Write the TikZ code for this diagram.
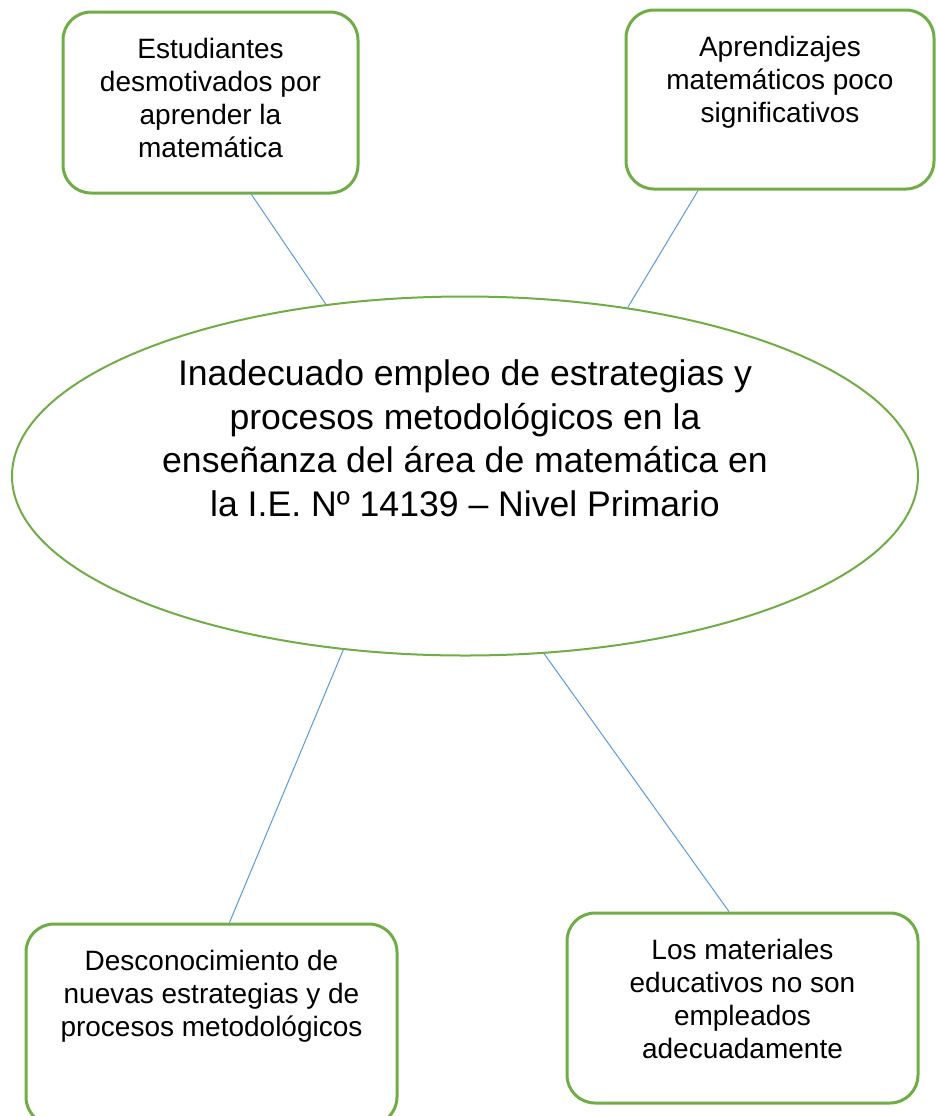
\documentclass[tikz,border=0pt]{standalone}
\usepackage{fontspec}
\setmainfont{Liberation Sans}
\usepackage{tikz}
\usetikzlibrary{shapes}
\definecolor{verde}{HTML}{70AD47}
\definecolor{azul}{HTML}{5B9BD5}

\begin{document}
\begin{tikzpicture}[x=0.5pt,y=-0.5pt,line join=round]
\tikzstyle{causa}=[draw=verde,line width=1.5pt,rounded corners=14pt,inner sep=13pt,fill=white,text=black,font=\fontsize{14}{16.5}\selectfont]
\tikzstyle{problema}=[ellipse,draw=verde,line width=1pt,inner sep=0pt,minimum width=453pt,minimum height=179.5pt,text=black,font=\fontsize{17.8}{21.75}\selectfont]
\tikzstyle{enlace}=[draw=azul,line width=0.5pt]
\clip (0,0) rectangle (936,1116);
% problema central
\node[problema] (prob) at (465,476) {\parbox[c][116pt][t]{310pt}{\centering Inadecuado empleo de estrategias y\\ procesos metodológicos en la\\ enseñanza del área de matemática en\\ la I.E. Nº 14139 – Nivel Primario}};
% cajas
\node[causa,minimum width=147.5pt,minimum height=90.5pt] (estud) at (210.5,102.5) {\parbox[c][64.5pt][t]{121.5pt}{\centering Estudiantes\\ desmotivados por\\ aprender la\\ matemática}};
\node[causa,minimum width=154pt,minimum height=89.5pt] (aprend) at (780,99.5) {\parbox[c][63.5pt][t]{128pt}{\centering Aprendizajes\\ matemáticos poco\\ significativos}};
\node[causa,minimum width=185.5pt,minimum height=100.5pt] (descon) at (211.5,1024.5) {\parbox[c][74.5pt][t]{159.5pt}{\centering Desconocimiento de\\ nuevas estrategias y de\\ procesos metodológicos}};
\node[causa,minimum width=175.5pt,minimum height=95pt] (mater) at (742.5,1008) {\parbox[c][69pt][t]{149.5pt}{\centering Los materiales\\ educativos no son\\ empleados\\ adecuadamente}};
% enlaces
\path[enlace] (estud.-66.9) edge (prob.129.6)
      (aprend.-132.3) edge (prob.46.4)
      (prob.-125.4) edge (descon.80.1)
      (prob.-66) edge (mater.98.7);
\end{tikzpicture}
\end{document}
